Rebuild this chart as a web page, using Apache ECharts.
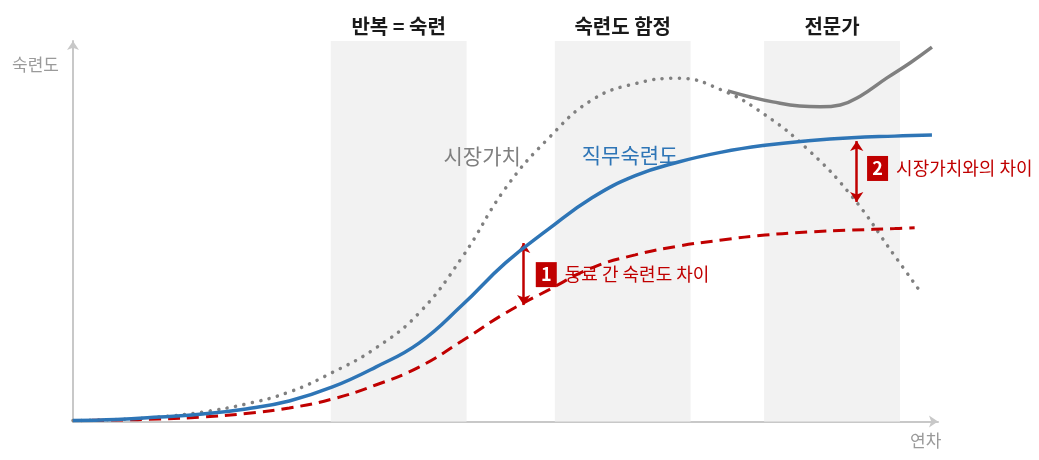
<!doctype html>
<html lang="ko">
<head>
<meta charset="UTF-8">
<script src="https://cdn.jsdelivr.net/npm/echarts@6/dist/echarts.min.js"></script>
<title>숙련도 곡선</title>
<style>
    html, body { margin: 0; background: #fff; }
    #main { width: 1039px; height: 460px; }
</style>
</head>
<body>
<div id="main"></div>
<script>
// x: 연차 (0~100), y: 숙련도 (0~100)
var xs = [0, 5, 10, 15, 20, 25, 30, 35, 40, 45, 50, 55, 60, 65, 70, 75, 80, 85, 90, 95];

// 직무숙련도 (파란 실선)
var skillX = xs.concat([99.3]);
var skill = [0.26, 0.53, 1.18, 1.97, 3.29, 5.39, 9.07, 14.3, 20.6, 30.6, 41.7, 50.6, 58.8, 64.6, 68.2, 70.8, 72.6, 73.8, 74.6, 75.0, 75.3];

// 동료 숙련도 (빨간 점선)
var peerX = xs.concat([97.3]);
var peer = [0.26, 0.39, 0.66, 1.18, 2.1, 3.55, 5.91, 9.59, 14.3, 21.2, 28.5, 34.6, 40.4, 43.8, 46.1, 47.7, 49.0, 49.8, 50.3, 50.7, 50.9];

// 시장가치 (회색 점)
var marketX = xs.concat([97.9]);
var market = [0.26, 0.53, 1.18, 2.5, 4.6, 7.75, 12.9, 19.3, 28.5, 43.2, 61.3, 74.5, 84.5, 88.8, 90.2, 87.1, 80.6, 71.4, 59.3, 43.5, 34.3];

// 전문가 시장가치 (회색 실선)
var expertX = [75.7, 78.3, 80.9, 84.0, 86.4, 88.7, 91.0, 94.1, 96.8, 99.3];
var expert = [86.9, 85.3, 84.0, 82.9, 82.7, 83.2, 85.5, 90.3, 94.3, 98.4];

// 구간
var bandNames = ['반복 = 숙련', '숙련도 함정', '전문가'];
var bandFrom = [29.8, 55.7, 79.9];
var bandTo = [45.5, 71.4, 95.6];
var bandTop = 101.8;

// 차이 화살표 [x, 위, 아래]
var gaps = [[52.1, 46.9, 30.6], [90.6, 73.7, 57.7]];
var gapNums = ['1', '2'];
var gapTexts = ['동료 간 숙련도 차이', '시장가치와의 차이'];
var gapLabelPos = [[53.5, 38.6], [91.8, 66.5]];

// 곡선 이름
var curveNames = ['시장가치', '직무숙련도'];
var curveNamePos = [[47.3, 69.8], [64.4, 70.0]];
var curveNameColors = ['#808080', '#2e75b6'];

function pairs(x, y) {
    return x.map(function (v, i) { return [v, y[i]]; });
}

var chart = echarts.init(document.getElementById('main'));

var axisCommon = {
    type: 'value',
    min: 0,
    max: 100,
    axisLine: {
        show: true,
        symbol: ['none', 'arrow'],
        symbolSize: [9, 9],
        lineStyle: { color: '#c8c8c8', width: 2 }
    },
    axisTick: { show: false },
    axisLabel: { show: false },
    splitLine: { show: false }
};

var option = {
    animation: false,
    textStyle: { fontFamily: "'Noto Sans CJK KR', 'Noto Sans', sans-serif" },
    grid: { left: 73, right: 101, top: 41, bottom: 38.5 },
    xAxis: axisCommon,
    yAxis: axisCommon,
    graphic: [
        { type: 'text', left: 12, top: 56, style: { text: '숙련도', fontSize: 17, fill: '#9a9a9a', fontFamily: 'Noto Sans CJK KR' } },
        { type: 'text', left: 910, top: 432, style: { text: '연차', fontSize: 17, fill: '#9a9a9a', fontFamily: 'Noto Sans CJK KR' } }
    ],
    series: [
        {
            // 구간 배경
            type: 'line',
            data: [],
            z: 1,
            silent: true,
            markArea: {
                silent: true,
                itemStyle: { color: '#f2f2f2' },
                label: {
                    show: true,
                    position: 'top',
                    distance: 5,
                    color: '#1a1a1a',
                    fontSize: 20,
                    fontWeight: 'bold'
                },
                data: bandNames.map(function (n, i) {
                    return [{ name: n, xAxis: bandFrom[i], yAxis: 0 }, { xAxis: bandTo[i], yAxis: bandTop }];
                })
            }
        },
        {
            name: '시장가치',
            type: 'line',
            data: pairs(marketX, market),
            smooth: 0.45,
            symbol: 'none',
            z: 3,
            lineStyle: { color: '#808080', width: 3.5, type: [0.1, 8.5], cap: 'round' }
        },
        {
            name: '전문가',
            type: 'line',
            data: pairs(expertX, expert),
            smooth: 0.45,
            symbol: 'none',
            z: 4,
            lineStyle: { color: '#808080', width: 3.5 }
        },
        {
            name: '동료',
            type: 'line',
            data: pairs(peerX, peer),
            smooth: 0.45,
            symbol: 'none',
            z: 4,
            lineStyle: { color: '#c00000', width: 3, type: [12, 7] }
        },
        {
            name: '직무숙련도',
            type: 'line',
            data: pairs(skillX, skill),
            smooth: 0.45,
            symbol: 'none',
            z: 5,
            lineStyle: { color: '#2e75b6', width: 3.5 }
        },
        {
            // 차이 화살표
            type: 'line',
            data: [],
            z: 6,
            markLine: {
                silent: true,
                symbol: ['arrow', 'arrow'],
                symbolSize: [10, 10],
                label: { show: false },
                lineStyle: { color: '#c00000', width: 2.5, type: 'solid' },
                data: gaps.map(function (g) {
                    return [{ coord: [g[0], g[1]] }, { coord: [g[0], g[2]] }];
                })
            }
        },
        {
            // 차이 설명
            type: 'scatter',
            symbolSize: 0,
            z: 6,
            silent: true,
            itemStyle: { opacity: 1 },
            data: gapLabelPos.map(function (p, i) {
                return { value: p, num: gapNums[i], text: gapTexts[i] };
            }),
            label: {
                show: true,
                position: 'right',
                distance: 0,
                formatter: function (p) {
                    return '{b|' + p.data.num + '}{t|' + p.data.text + '}';
                },
                rich: {
                    b: {
                        backgroundColor: '#c00000',
                        color: '#fff',
                        width: 21,
                        height: 25,
                        lineHeight: 25,
                        align: 'center',
                        fontSize: 18,
                        fontWeight: 'bold'
                    },
                    t: { color: '#c00000', fontSize: 18, padding: [0, 0, 0, 8] }
                }
            }
        },
        {
            // 곡선 이름
            type: 'scatter',
            symbolSize: 0,
            z: 6,
            silent: true,
            itemStyle: { opacity: 1 },
            data: curveNamePos.map(function (p, i) {
                return {
                    value: p,
                    name: curveNames[i],
                    label: { color: curveNameColors[i] }
                };
            }),
            label: {
                show: true,
                position: 'inside',
                fontSize: 21,
                formatter: '{b}'
            }
        }
    ]
};

chart.setOption(option);
</script>
</body>
</html>
